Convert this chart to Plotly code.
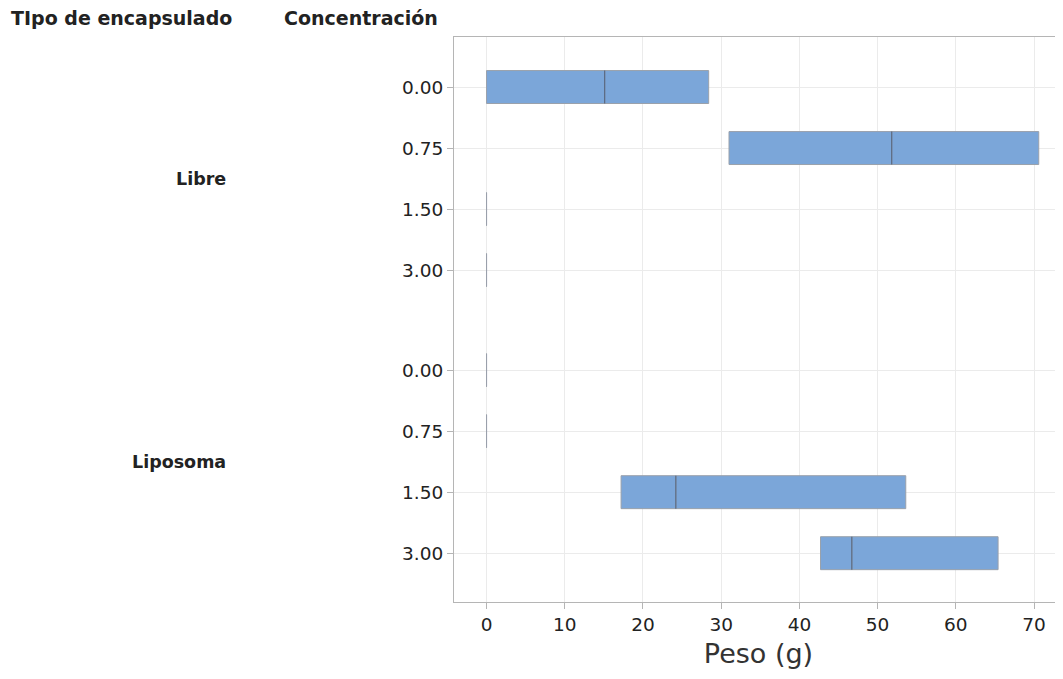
import plotly.graph_objects as go

# ---- data ----
groups = ["Libre", "Libre", "Libre", "Libre", "Liposoma", "Liposoma", "Liposoma", "Liposoma"]
concentrations = ["0.00", "0.75", "1.50", "3.00", "0.00", "0.75", "1.50", "3.00"]
q1_values = [0.0, 31.0, 0.0, 0.0, 0.0, 0.0, 17.2, 42.7]
median_values = [15.1, 51.8, 0.0, 0.0, 0.0, 0.0, 24.2, 46.7]
q3_values = [28.4, 70.6, 0.0, 0.0, 0.0, 0.0, 53.6, 65.4]
x_ticks = [0, 10, 20, 30, 40, 50, 60, 70]

GROUP_GAP = 1.64
FILL = "#7ba6d9"
OUTLINE = "#9aa1ab"
MEDIAN = "#5a6a83"
FONT = "DejaVu Sans"
TXT = "#222222"

# category positions (group-separated)
positions = []
group_order = []
for i, g in enumerate(groups):
    if g not in group_order:
        group_order.append(g)
    gi = group_order.index(g)
    idx_in_group = sum(1 for gg in groups[:i] if gg == g)
    positions.append(gi * (3 + GROUP_GAP) + idx_in_group)

fig = go.Figure()
for i in range(len(groups)):
    fig.add_trace(go.Box(
        orientation="h",
        y=[positions[i]],
        q1=[q1_values[i]],
        median=[median_values[i]],
        q3=[q3_values[i]],
        lowerfence=[q1_values[i]],
        upperfence=[q3_values[i]],
        width=0.54,
        whiskerwidth=0,
        fillcolor=FILL,
        line=dict(color=OUTLINE, width=1),
        boxpoints=False,
        showlegend=False,
        hoverinfo="skip",
    ))
# darker median lines
for i in range(len(groups)):
    if q3_values[i] > q1_values[i]:
        m = median_values[i]
        fig.add_trace(go.Box(
            orientation="h",
            y=[positions[i]],
            q1=[m], median=[m], q3=[m],
            lowerfence=[m], upperfence=[m],
            width=0.54, whiskerwidth=0,
            fillcolor="rgba(0,0,0,0)",
            line=dict(color=MEDIAN, width=1.2),
            boxpoints=False, showlegend=False, hoverinfo="skip",
        ))

annotations = []
for g in group_order:
    ps = [p for p, gg in zip(positions, groups) if gg == g]
    annotations.append(dict(
        text=g, x=-0.371, xref="paper", y=sum(ps) / len(ps), yref="y",
        xanchor="right", yanchor="middle", showarrow=False,
        font=dict(family=FONT, size=17.5, color=TXT, weight="bold"),
    ))
annotations.append(dict(
    text="TIpo de encapsulado", x=-0.731, xref="paper", y=1.034, yref="paper",
    xanchor="left", yanchor="middle", showarrow=False,
    font=dict(family=FONT, size=19, color=TXT, weight="bold"),
))
annotations.append(dict(
    text="Concentración", x=-0.283, xref="paper", y=1.034, yref="paper",
    xanchor="left", yanchor="middle", showarrow=False,
    font=dict(family=FONT, size=19, color=TXT, weight="bold"),
))

fig.update_layout(
    width=1055, height=671,
    margin=dict(l=446, r=0, t=29, b=77),
    paper_bgcolor="white", plot_bgcolor="white",
    font=dict(family=FONT, size=18.5, color=TXT),
    annotations=annotations,
    xaxis=dict(
        range=[-4.16, 73.7],
        tickvals=x_ticks,
        ticktext=[str(v) for v in x_ticks],
        showgrid=True, gridcolor="#ebebeb", gridwidth=1,
        zeroline=False,
        showline=True, linecolor="#b5b5b5", linewidth=1, mirror=True,
        ticks="outside", ticklen=6, tickcolor="#b5b5b5",
        tickfont=dict(family=FONT, size=18.5, color=TXT),
        title=dict(text="Peso (g)", font=dict(family=FONT, size=27, color="#333333"), standoff=9),
    ),
    yaxis=dict(
        range=[8.44, -0.82],
        tickvals=positions,
        ticktext=concentrations,
        showgrid=True, gridcolor="#ebebeb", gridwidth=1,
        zeroline=False,
        showline=True, linecolor="#b5b5b5", linewidth=1,
        ticks="outside", ticklen=6, tickcolor="#b5b5b5",
        tickfont=dict(family=FONT, size=18.5, color=TXT),
    ),
)

fig.write_html("out.html")
